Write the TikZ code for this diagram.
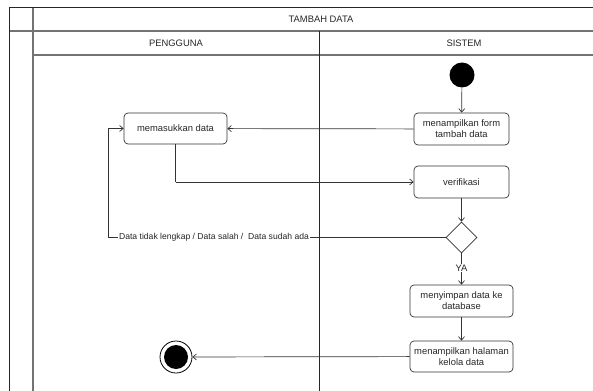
\documentclass[tikz,border=0pt]{standalone}
\usepackage{fontspec}
\setmainfont{Liberation Sans}
\usetikzlibrary{arrows.meta,shapes.geometric}
\begin{document}
\begin{tikzpicture}[x=1pt,y=-1pt,
  font=\fontsize{9.4}{11}\selectfont,
  frame/.style={draw=black!85,line width=0.9pt},
  grid/.style={draw=black!55,line width=1.1pt},
  act/.style={draw=black!80,line width=0.7pt,rounded corners=4pt,align=center,
    minimum width=95pt,minimum height=32pt,inner sep=2pt,text=black!85},
  flow/.style={draw=black!80,line width=0.7pt,-{Straight Barb[length=3.5pt,width=6pt]}},
  plain/.style={draw=black!80,line width=0.7pt}]
\useasboundingbox (0,0) rectangle (593,390);
% swimlane table
\begin{scope}
\clip (0,0) rectangle (593,390);
\draw[grid] (9,31) -- (610,31);
\draw[grid] (33,55) -- (610,55);
\draw[grid] (33,7) -- (33,395);
\draw[frame] (9,395) -- (9,7) -- (610,7);
\draw[frame] (319,31) -- (319,395);
\end{scope}
\node[text=black!85] (title) at (321,19) {TAMBAH DATA};
\node[text=black!85] (lane1) at (176,43) {PENGGUNA};
\node[text=black!85] (lane2) at (464,43) {SISTEM};
% activity nodes
\node[circle,fill=black,minimum size=25pt,inner sep=0pt] (start) at (462,75) {};
\node[act] (form) at (461.5,129) {menampilkan form\\tambah data};
\node[act,minimum width=103pt,minimum height=31pt] (input) at (175.5,128.5) {memasukkan data};
\node[act] (verif) at (461.5,182) {verifikasi};
\node[diamond,draw=black!80,line width=0.7pt,minimum width=31pt,minimum height=31pt,inner sep=0pt] (dec) at (461.5,237.5) {};
\node[act,minimum width=103pt] (save) at (461.5,301) {menyimpan data ke\\database};
\node[act,minimum width=103pt,minimum height=31pt] (show) at (461.5,356.5) {menampilkan halaman\\kelola data};
\node[circle,draw=black,line width=0.8pt,minimum size=32pt,inner sep=0pt] (end) at (176,357) {};
\node[circle,fill=black,minimum size=24pt,inner sep=0pt] (endin) at (end.center) {};
\coordinate (loopL) at (108,237.5);
\coordinate (loopU) at (108,128.5);
\coordinate (downC) at (input.south |- verif.west);
% connectors
\draw[flow] (start) -- (form);
\draw[flow] (form) -- (input);
\draw[plain] (input.south) -- (downC);
\draw[flow] (downC) -- (verif.west);
\draw[flow] (verif) -- (dec);
\draw[flow] (dec.west) -- (loopL) -- (loopU) -- (input.west);
\node[fill=white,inner sep=1.5pt,text=black!85,font=\fontsize{8.6}{10}\selectfont] (cond) at (214,237.5) {Data tidak lengkap / Data salah /\ \ Data sudah ada};
\draw[flow] (dec.south) -- (save.north);
\node[fill=white,inner sep=0.5pt,text=black!85] (ya) at (461.5,268) {YA};
\draw[flow] (save) -- (show);
\draw[flow] (show) -- (end);
\end{tikzpicture}
\end{document}
